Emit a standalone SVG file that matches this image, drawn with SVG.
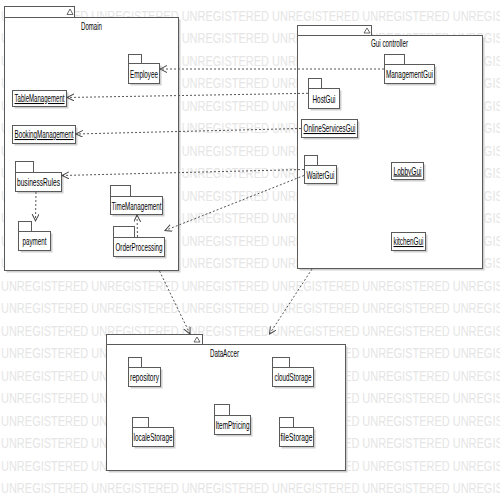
<svg xmlns="http://www.w3.org/2000/svg" width="500" height="500" viewBox="0 0 500 500">
<style>
.wm{font-family:"Liberation Sans Narrow","Liberation Sans",Arial,sans-serif;font-size:15px;fill:#e5e5e5}
.box{fill:#ffffff;stroke:#5a5a5a;stroke-width:1}
.sh{fill:#cfcfcf}
.lbl{font-family:"Liberation Sans Narrow","Liberation Sans",Arial,sans-serif;font-size:10.5px;fill:#000;text-anchor:middle}
.ul{text-decoration:underline}
.tri{fill:none;stroke:#444;stroke-width:0.8}
.dep{fill:none;stroke:#555;stroke-width:1;stroke-dasharray:2,2;marker-end:url(#open)}
</style>
<defs>
<marker id="open" markerUnits="userSpaceOnUse" markerWidth="9" markerHeight="9" refX="7" refY="3.5" orient="auto" viewBox="0 0 9 9">
<path d="M0,0 L7,3.5 L0,7" fill="none" stroke="#444" stroke-width="1"/>
</marker>
</defs>
<rect width="500" height="500" fill="#ffffff"/>
<g id="watermark">
<text class="wm" x="1" y="20.5" textLength="539" lengthAdjust="spacingAndGlyphs">UNREGISTERED UNREGISTERED UNREGISTERED UNREGISTERED UNREGISTERED UNREGISTERED</text>
<text class="wm" x="1" y="43" textLength="539" lengthAdjust="spacingAndGlyphs">UNREGISTERED UNREGISTERED UNREGISTERED UNREGISTERED UNREGISTERED UNREGISTERED</text>
<text class="wm" x="1" y="65.5" textLength="539" lengthAdjust="spacingAndGlyphs">UNREGISTERED UNREGISTERED UNREGISTERED UNREGISTERED UNREGISTERED UNREGISTERED</text>
<text class="wm" x="1" y="88" textLength="539" lengthAdjust="spacingAndGlyphs">UNREGISTERED UNREGISTERED UNREGISTERED UNREGISTERED UNREGISTERED UNREGISTERED</text>
<text class="wm" x="1" y="110.5" textLength="539" lengthAdjust="spacingAndGlyphs">UNREGISTERED UNREGISTERED UNREGISTERED UNREGISTERED UNREGISTERED UNREGISTERED</text>
<text class="wm" x="1" y="133" textLength="539" lengthAdjust="spacingAndGlyphs">UNREGISTERED UNREGISTERED UNREGISTERED UNREGISTERED UNREGISTERED UNREGISTERED</text>
<text class="wm" x="1" y="155.5" textLength="539" lengthAdjust="spacingAndGlyphs">UNREGISTERED UNREGISTERED UNREGISTERED UNREGISTERED UNREGISTERED UNREGISTERED</text>
<text class="wm" x="1" y="178" textLength="539" lengthAdjust="spacingAndGlyphs">UNREGISTERED UNREGISTERED UNREGISTERED UNREGISTERED UNREGISTERED UNREGISTERED</text>
<text class="wm" x="1" y="200.5" textLength="539" lengthAdjust="spacingAndGlyphs">UNREGISTERED UNREGISTERED UNREGISTERED UNREGISTERED UNREGISTERED UNREGISTERED</text>
<text class="wm" x="1" y="223" textLength="539" lengthAdjust="spacingAndGlyphs">UNREGISTERED UNREGISTERED UNREGISTERED UNREGISTERED UNREGISTERED UNREGISTERED</text>
<text class="wm" x="1" y="245.5" textLength="539" lengthAdjust="spacingAndGlyphs">UNREGISTERED UNREGISTERED UNREGISTERED UNREGISTERED UNREGISTERED UNREGISTERED</text>
<text class="wm" x="1" y="268" textLength="539" lengthAdjust="spacingAndGlyphs">UNREGISTERED UNREGISTERED UNREGISTERED UNREGISTERED UNREGISTERED UNREGISTERED</text>
<text class="wm" x="1" y="290.5" textLength="539" lengthAdjust="spacingAndGlyphs">UNREGISTERED UNREGISTERED UNREGISTERED UNREGISTERED UNREGISTERED UNREGISTERED</text>
<text class="wm" x="1" y="313" textLength="539" lengthAdjust="spacingAndGlyphs">UNREGISTERED UNREGISTERED UNREGISTERED UNREGISTERED UNREGISTERED UNREGISTERED</text>
<text class="wm" x="1" y="335.5" textLength="539" lengthAdjust="spacingAndGlyphs">UNREGISTERED UNREGISTERED UNREGISTERED UNREGISTERED UNREGISTERED UNREGISTERED</text>
<text class="wm" x="1" y="358" textLength="539" lengthAdjust="spacingAndGlyphs">UNREGISTERED UNREGISTERED UNREGISTERED UNREGISTERED UNREGISTERED UNREGISTERED</text>
<text class="wm" x="1" y="380.5" textLength="539" lengthAdjust="spacingAndGlyphs">UNREGISTERED UNREGISTERED UNREGISTERED UNREGISTERED UNREGISTERED UNREGISTERED</text>
<text class="wm" x="1" y="403" textLength="539" lengthAdjust="spacingAndGlyphs">UNREGISTERED UNREGISTERED UNREGISTERED UNREGISTERED UNREGISTERED UNREGISTERED</text>
<text class="wm" x="1" y="425.5" textLength="539" lengthAdjust="spacingAndGlyphs">UNREGISTERED UNREGISTERED UNREGISTERED UNREGISTERED UNREGISTERED UNREGISTERED</text>
<text class="wm" x="1" y="448" textLength="539" lengthAdjust="spacingAndGlyphs">UNREGISTERED UNREGISTERED UNREGISTERED UNREGISTERED UNREGISTERED UNREGISTERED</text>
<text class="wm" x="1" y="470.5" textLength="539" lengthAdjust="spacingAndGlyphs">UNREGISTERED UNREGISTERED UNREGISTERED UNREGISTERED UNREGISTERED UNREGISTERED</text>
<text class="wm" x="1" y="493" textLength="539" lengthAdjust="spacingAndGlyphs">UNREGISTERED UNREGISTERED UNREGISTERED UNREGISTERED UNREGISTERED UNREGISTERED</text>
</g>

<g id="Domain">
<rect class="sh" x="6.5" y="19.5" width="174" height="253"/>
<rect class="box" x="4.5" y="6.5" width="70" height="11"/>
<polygon class="tri" points="67,14.5 73,14.5 70,9"/>
<rect class="box" x="4.5" y="17.5" width="174" height="253"/>
<text class="lbl" x="91.5" y="30" textLength="21" lengthAdjust="spacingAndGlyphs">Domain</text>
</g>

<g id="GuiController">
<rect class="sh" x="299.5" y="37.5" width="185" height="233"/>
<rect class="box" x="297.5" y="25.5" width="74" height="10"/>
<polygon class="tri" points="364,33 370,33 367,28"/>
<rect class="box" x="297.5" y="35.5" width="185" height="233"/>
<text class="lbl" x="389.5" y="47" textLength="37" lengthAdjust="spacingAndGlyphs">Gui controller</text>
</g>

<g id="DataAccer">
<rect class="sh" x="108.5" y="346.5" width="239" height="126"/>
<rect class="box" x="106.5" y="334.5" width="96" height="10"/>
<polygon class="tri" points="194,342 200,342 197,337"/>
<rect class="box" x="106.5" y="344.5" width="239" height="126"/>
<text class="lbl" x="224.5" y="357" textLength="29" lengthAdjust="spacingAndGlyphs">DataAccer</text>
</g>

<g id="Employee">
<rect class="sh" x="130.5" y="65.5" width="31" height="20"/>
<rect class="box" x="128.5" y="54.5" width="13" height="9"/>
<rect class="box" x="128.5" y="63.5" width="31" height="20"/>
<text class="lbl" x="144" y="77.5" textLength="28" lengthAdjust="spacingAndGlyphs">Employee</text>
</g>

<g id="TableManagement">
<rect class="sh" x="14.5" y="92.5" width="54" height="16"/>
<rect class="box" x="12.5" y="90.5" width="54" height="16"/>
<text class="lbl ul" x="39.5" y="102" textLength="50" lengthAdjust="spacingAndGlyphs">TableManagement</text>
</g>

<g id="BookingManagement">
<rect class="sh" x="14.5" y="127.5" width="63" height="18"/>
<rect class="box" x="12.5" y="125.5" width="63" height="18"/>
<text class="lbl ul" x="44" y="138" textLength="59" lengthAdjust="spacingAndGlyphs">BookingManagement</text>
</g>

<g id="businessRules">
<rect class="sh" x="17.5" y="174.5" width="46" height="19"/>
<rect class="box" x="15.5" y="161.5" width="18" height="11"/>
<rect class="box" x="15.5" y="172.5" width="46" height="19"/>
<text class="lbl" x="38.5" y="185.5" textLength="43" lengthAdjust="spacingAndGlyphs">businessRules</text>
</g>

<g id="payment">
<rect class="sh" x="20.5" y="233.5" width="32" height="19"/>
<rect class="box" x="18.5" y="221.5" width="13" height="10"/>
<rect class="box" x="18.5" y="231.5" width="32" height="19"/>
<text class="lbl" x="34.5" y="245" textLength="24" lengthAdjust="spacingAndGlyphs">payment</text>
</g>

<g id="TimeManagement">
<rect class="sh" x="112.5" y="198.5" width="52" height="18"/>
<rect class="box" x="110.5" y="185.5" width="20" height="11"/>
<rect class="box" x="110.5" y="196.5" width="52" height="18"/>
<text class="lbl" x="136.5" y="209.5" textLength="50" lengthAdjust="spacingAndGlyphs">TimeManagement</text>
</g>

<g id="OrderProcessing">
<rect class="sh" x="115.5" y="239.5" width="51" height="19"/>
<rect class="box" x="113.5" y="226.5" width="21" height="11"/>
<rect class="box" x="113.5" y="237.5" width="51" height="19"/>
<text class="lbl" x="139" y="251" textLength="47" lengthAdjust="spacingAndGlyphs">OrderProcessing</text>
</g>

<g id="ManagementGui">
<rect class="sh" x="386.5" y="66.5" width="50" height="19"/>
<rect class="box" x="384.5" y="54.5" width="20" height="10"/>
<rect class="box" x="384.5" y="64.5" width="50" height="19"/>
<text class="lbl" x="409.5" y="78" textLength="47" lengthAdjust="spacingAndGlyphs">ManagementGui</text>
</g>

<g id="HostGui">
<rect class="sh" x="310.5" y="90.5" width="31" height="20"/>
<rect class="box" x="308.5" y="78.5" width="13" height="10"/>
<rect class="box" x="308.5" y="88.5" width="31" height="20"/>
<text class="lbl" x="324" y="102.5" textLength="23" lengthAdjust="spacingAndGlyphs">HostGui</text>
</g>

<g id="OnlineServicesGui">
<rect class="sh" x="303.5" y="121.5" width="56" height="18"/>
<rect class="box" x="301.5" y="119.5" width="56" height="18"/>
<text class="lbl ul" x="329.5" y="132" textLength="52" lengthAdjust="spacingAndGlyphs">OnlineServicesGui</text>
</g>

<g id="WaiterGui">
<rect class="sh" x="306.5" y="167.5" width="32" height="18"/>
<rect class="box" x="304.5" y="155.5" width="13" height="10"/>
<rect class="box" x="304.5" y="165.5" width="32" height="18"/>
<text class="lbl" x="320.5" y="178.5" textLength="28" lengthAdjust="spacingAndGlyphs">WaiterGui</text>
</g>

<g id="LobbyGui">
<rect class="sh" x="393.5" y="164.5" width="32" height="17"/>
<rect class="box" x="391.5" y="162.5" width="32" height="17"/>
<text class="lbl ul" x="407.5" y="174.5" textLength="28" lengthAdjust="spacingAndGlyphs">LobbyGui</text>
</g>

<g id="kitchenGui">
<rect class="sh" x="393.5" y="234.5" width="34" height="18"/>
<rect class="box" x="391.5" y="232.5" width="34" height="18"/>
<text class="lbl ul" x="408.5" y="245" textLength="30" lengthAdjust="spacingAndGlyphs">kitchenGui</text>
</g>

<g id="repository">
<rect class="sh" x="130.5" y="369.5" width="32" height="19"/>
<rect class="box" x="128.5" y="357.5" width="13" height="10"/>
<rect class="box" x="128.5" y="367.5" width="32" height="19"/>
<text class="lbl" x="144.5" y="381" textLength="29" lengthAdjust="spacingAndGlyphs">repository</text>
</g>

<g id="cloudStorage">
<rect class="sh" x="274.5" y="369.5" width="41" height="19"/>
<rect class="box" x="272.5" y="357.5" width="17" height="10"/>
<rect class="box" x="272.5" y="367.5" width="41" height="19"/>
<text class="lbl" x="293" y="381" textLength="37" lengthAdjust="spacingAndGlyphs">cloudStorage</text>
</g>

<g id="localeStorage">
<rect class="sh" x="134.5" y="429.5" width="41" height="19"/>
<rect class="box" x="132.5" y="417.5" width="16" height="10"/>
<rect class="box" x="132.5" y="427.5" width="41" height="19"/>
<text class="lbl" x="153" y="441" textLength="39" lengthAdjust="spacingAndGlyphs">localeStorage</text>
</g>

<g id="ItemPtricing">
<rect class="sh" x="216.5" y="417.5" width="36" height="19"/>
<rect class="box" x="214.5" y="404.5" width="15" height="11"/>
<rect class="box" x="214.5" y="415.5" width="36" height="19"/>
<text class="lbl" x="232.5" y="429" textLength="34" lengthAdjust="spacingAndGlyphs">ItemPtricing</text>
</g>

<g id="fileStorage">
<rect class="sh" x="281.5" y="429.5" width="34" height="19"/>
<rect class="box" x="279.5" y="417.5" width="14" height="10"/>
<rect class="box" x="279.5" y="427.5" width="34" height="19"/>
<text class="lbl" x="296.5" y="441" textLength="32" lengthAdjust="spacingAndGlyphs">fileStorage</text>
</g>

<g id="connectors">
<line class="dep" x1="384" y1="69" x2="160" y2="69"/>
<line class="dep" x1="308" y1="93.3" x2="67" y2="97.5"/>
<line class="dep" x1="301" y1="128.5" x2="76" y2="134"/>
<line class="dep" x1="304" y1="169.5" x2="62" y2="175.5"/>
<line class="dep" x1="304" y1="175.5" x2="165" y2="230.5"/>
<line class="dep" x1="36" y1="192" x2="35.5" y2="221"/>
<line class="dep" x1="137.5" y1="237" x2="137" y2="215"/>
<line class="dep" x1="159.5" y1="271" x2="190" y2="334"/>
<line class="dep" x1="312" y1="269" x2="269.5" y2="334"/>
</g>
</svg>
